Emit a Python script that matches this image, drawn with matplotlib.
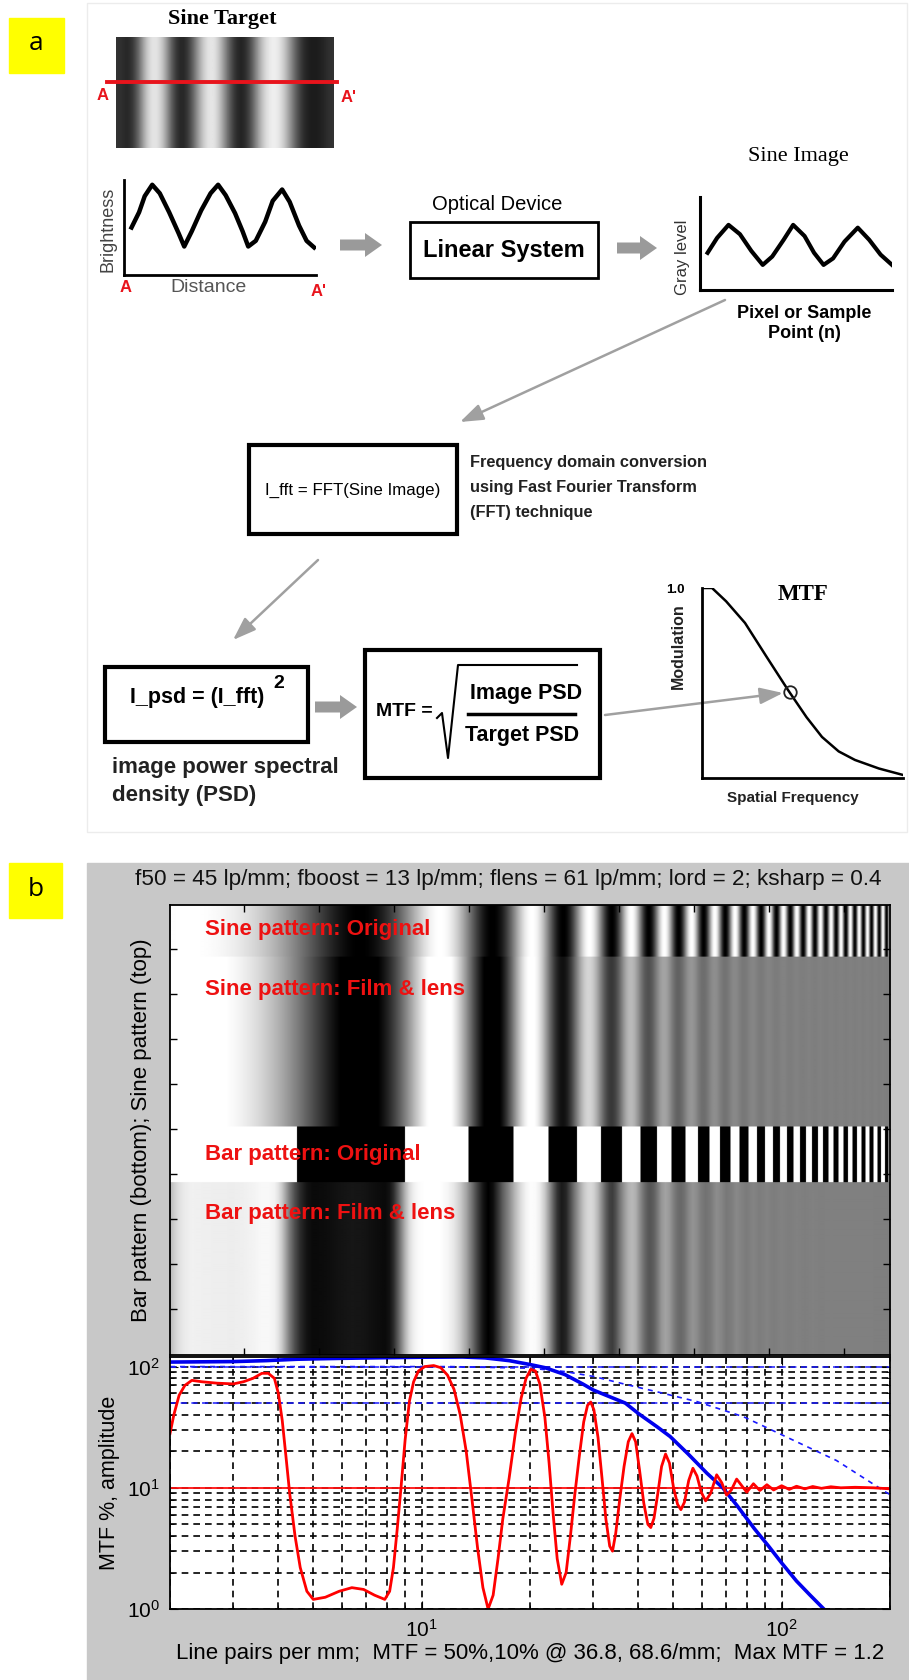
import numpy as np
import matplotlib
matplotlib.use("Agg")
import matplotlib.pyplot as plt
from matplotlib.patches import Rectangle, FancyArrow
from matplotlib.ticker import LogLocator, NullFormatter

W, H = 909, 1680

# ---------------- data ----------------
# panel a: sine target brightness across the strip (0 = black, 1 = white)
target_profile = [0.2, 0.12, 0.35, 0.8, 0.95, 0.75, 0.3, 0.1, 0.25, 0.65, 0.92, 0.9, 0.55,
                  0.2, 0.1, 0.3, 0.7, 0.93, 0.95, 0.75, 0.4, 0.15, 0.1, 0.12, 0.2]

# brightness trace A -> A' (arbitrary units)
bright_x = [0.4, 0.8, 1.1, 1.5, 1.9, 2.4, 2.9, 3.2, 3.6, 4.1, 4.6, 5.0, 5.4, 5.9, 6.3, 6.6,
            7.0, 7.5, 7.9, 8.4, 8.8, 9.3, 9.7, 10.1]
bright_y = [5.0, 6.6, 8.3, 9.5, 8.6, 6.6, 4.4, 3.0, 4.6, 6.8, 8.6, 9.5, 8.4, 6.5, 4.6, 3.0,
            3.6, 5.6, 7.8, 9.0, 7.7, 5.2, 3.6, 2.9]

# sine image trace (gray level vs pixel)
gray_x = [0.4, 0.9, 1.5, 2.1, 2.7, 3.3, 3.8, 4.4, 4.9, 5.5, 6.0, 6.5, 7.0, 7.6, 8.3, 8.9, 9.5, 10.1]
gray_y = [4.0, 5.6, 7.0, 6.0, 4.2, 2.7, 3.6, 5.4, 7.0, 5.8, 4.0, 2.7, 3.4, 5.2, 6.7, 5.4, 3.8, 2.7]

# MTF sketch (normalised spatial frequency, modulation)
sketch_freq = [0.0, 0.05, 0.12, 0.214, 0.32, 0.428, 0.52, 0.597, 0.68, 0.761, 0.88, 1.0]
sketch_mod = [1.0, 1.0, 0.93, 0.816, 0.64, 0.463, 0.32, 0.216, 0.14, 0.095, 0.05, 0.016]
sketch_mark = (0.438, 0.453)

# panel b: bar pattern response (red), lp/mm vs amplitude
red_f = [2.0, 2.05, 2.12, 2.2, 2.3, 2.45, 2.7, 3.0, 3.2, 3.4, 3.6, 3.75, 3.9, 4.0, 4.1, 4.2,
         4.3, 4.45, 4.6, 4.8, 5.0, 5.4, 5.9, 6.4, 6.9, 7.4, 7.9, 8.15, 8.35, 8.55, 8.75, 9.0,
         9.25, 9.5, 9.8, 10.2, 10.8, 11.3, 11.8, 12.3, 12.8, 13.3, 13.8, 14.3, 14.8, 15.3,
         15.8, 16.3, 16.8, 17.5, 18.2, 18.9, 19.5, 20.1, 20.7, 21.3, 22.0, 22.6, 23.2, 23.8,
         24.5, 25.2, 25.9, 26.6, 27.4, 28.2, 28.9, 29.5, 30.1, 30.9, 31.7, 32.5, 33.3, 33.9,
         34.6, 35.5, 36.5, 37.5, 38.4, 39.3, 40.3, 41.4, 42.5, 43.3, 44.2, 45.3, 46.4, 47.6,
         48.8, 50.1, 51.4, 52.5, 53.7, 55.2, 56.7, 58.2, 59.8, 61.5, 63.5, 66.0, 68.2, 70.3,
         72.5, 75.0, 77.5, 80.0, 83.5, 87.0, 91.0, 95.0, 100.0, 105.0, 110.0, 116.0, 122.0,
         129.0, 137.0, 146.0, 160.0, 180.0, 200.0]
red_amp = [28, 40, 58, 70, 77, 75, 73, 72, 75, 80, 88, 88, 80, 60, 36, 18,
           9, 4, 2.2, 1.4, 1.2, 1.25, 1.4, 1.5, 1.45, 1.3, 1.2, 1.4, 2.2, 4.5, 9.5, 25,
           52, 75, 92, 100, 102, 98, 85, 65, 40, 20, 8, 3.2, 1.5, 1.0,
           1.3, 2.6, 5.5, 12, 28, 55, 80, 95, 92, 72, 38, 16, 6, 2.6,
           1.6, 2.0, 4.0, 8.5, 18, 35, 48, 51, 44, 26, 12, 5.5, 3.3, 3.0,
           4.2, 8, 15, 24, 28, 24, 14, 7.5, 5, 4.7, 5.6, 9, 15, 19,
           16, 10, 7.3, 6.6, 7.6, 11.5, 14.5, 12.5, 9.2, 7.8, 9, 12.8, 11, 8.7,
           9.6, 11.8, 10.4, 9.2, 10.8, 9.5, 10.6, 9.6, 10.4, 9.7, 10.3, 9.8, 10.25,
           9.9, 10.2, 10.0, 10.1, 10.0, 9.8]

# system MTF (blue solid), percent
mtf_f = [2.0, 3.0, 3.7, 4.5, 6.0, 8.0, 10.0, 13.0, 15.0, 17.5, 20.0, 22.0, 25.0, 28.0, 30.0,
         33.0, 36.8, 40.0, 45.0, 49.0, 55.0, 62.0, 68.6, 75.0, 84.0, 92.0, 100.0, 110.0,
         120.0, 131.0, 140.0]
mtf_pct = [109, 110, 112, 115, 117, 118.5, 119.5, 120, 118, 112, 104, 98, 86, 72, 64,
           57, 50, 41, 32, 26.5, 19, 13.2, 10, 7.2, 4.6, 3.3, 2.4, 1.7,
           1.3, 1.0, 0.8]

# lens MTF (blue dashed), percent
lens_f = [2.0, 12.0, 20.0, 25.0, 30.0, 35.7, 45.0, 58.2, 78.5, 103.0, 142.0, 196.0, 200.0]
lens_pct = [100, 100, 97, 91, 83, 73, 62, 51.4, 38.5, 26.3, 16.8, 9.1, 8.8]

blue_refs = [100, 50]
red_ref = 10
f_lim = (2, 200)
amp_lim = (1, 120)
pattern_period = 9.0      # lp/mm per cycle of the test pattern
pattern_white = 2.25      # lp/mm where the first white band sits
row_heights = [35, 113, 37, 115]   # sine orig, sine film, bar orig, bar film
n_cols = 480

plt.rcParams["font.family"] = ["Liberation Sans", "DejaVu Sans"]
SERIF = "Liberation Serif"

fig = plt.figure(figsize=(W / 100, H / 100), dpi=100)


def px_axes(x0, y0, x1, y1):
    return fig.add_axes([x0 / W, 1 - y1 / H, (x1 - x0) / W, (y1 - y0) / H])


bg = px_axes(0, 0, W, H)
bg.set_xlim(0, W)
bg.set_ylim(H, 0)
bg.axis("off")

# ================= panel a =================
bg.add_patch(Rectangle((87, 3), 820, 829, fill=False, ec="#ececec", lw=1))
bg.add_patch(Rectangle((9, 18), 55, 55, color="#ffff00"))
bg.text(36.5, 44, "a", fontsize=19, ha="center", va="center", family="Open Sans")

bg.text(222, 19, "Sine Target", family=SERIF, weight="bold", fontsize=16,
        ha="center", va="center")

ax_t = px_axes(116, 37, 334, 148)
ax_t.imshow(np.array([target_profile]), cmap="gray", vmin=0, vmax=1,
            aspect="auto", interpolation="bicubic")
ax_t.axis("off")
ax_t.plot([(107 - 116) / 218, (337 - 116) / 218], [(148 - 82) / 111] * 2,
          color="#e8141c", lw=2.8, transform=ax_t.transAxes, clip_on=False)
bg.text(103, 96, "A", color="#e8141c", weight="bold", fontsize=12, ha="center", va="center")
bg.text(349, 97, "A'", color="#e8141c", weight="bold", fontsize=12, ha="center", va="center")

# brightness trace
ax_b = px_axes(124, 180, 316, 275)
ax_b.set_facecolor("none")
ax_b.plot(bright_x, bright_y, color="black", lw=3.2, solid_joinstyle="round")
ax_b.set_xlim(0, 10.2)
ax_b.set_ylim(0, 10)
ax_b.set_xticks([])
ax_b.set_yticks([])
for s in ["top", "right"]:
    ax_b.spines[s].set_visible(False)
for s in ["left", "bottom"]:
    ax_b.spines[s].set_linewidth(2)
bg.text(108, 229, "Brightness", rotation=90, fontsize=13, color="#444444",
        ha="center", va="center")
bg.text(209, 288, "Distance", fontsize=14, color="#555555", ha="center", va="center")
bg.text(126, 288, "A", color="#e8141c", weight="bold", fontsize=12, ha="center", va="center")
bg.text(319, 292, "A'", color="#e8141c", weight="bold", fontsize=12, ha="center", va="center")

gray_arrow = "#9a9a9a"
for (x0, x1, y) in [(340, 382, 245), (617, 657, 248), (315, 357, 707)]:
    bg.add_patch(FancyArrow(x0, y, x1 - x0, 0, width=11, head_width=24, head_length=17,
                            length_includes_head=True, color=gray_arrow, lw=0))

bg.text(497, 205, "Optical Device", fontsize=14.5, ha="center", va="center")
bg.add_patch(Rectangle((410, 222), 188, 56, fill=False, ec="black", lw=2))
bg.text(504, 250, "Linear System", fontsize=17, weight="bold", ha="center", va="center")

# sine image trace
bg.text(798, 157, "Sine Image", family=SERIF, fontsize=16, ha="center", va="center")
ax_g = px_axes(700, 197, 892, 290)
ax_g.set_facecolor("none")
ax_g.plot(gray_x, gray_y, color="black", lw=3.0, solid_joinstyle="round")
ax_g.set_xlim(0, 10.1)
ax_g.set_ylim(0, 10)
ax_g.set_xticks([])
ax_g.set_yticks([])
for s in ["top", "right"]:
    ax_g.spines[s].set_visible(False)
for s in ["left", "bottom"]:
    ax_g.spines[s].set_linewidth(2.2)
bg.text(682, 257, "Gray level", rotation=90, fontsize=12, color="#333333",
        ha="center", va="center")
bg.text(804, 313, "Pixel or Sample", fontsize=13, weight="bold", ha="center", va="center")
bg.text(804, 334, "Point (n)", fontsize=13, weight="bold", ha="center", va="center")

thin = dict(arrowstyle="-|>,head_length=1.4,head_width=0.5", color="#a0a0a0", lw=1.8,
            shrinkA=0, shrinkB=0)
bg.annotate("", xy=(460, 422), xytext=(725, 300), arrowprops=thin)
bg.annotate("", xy=(233, 640), xytext=(318, 560), arrowprops=thin)
bg.annotate("", xy=(783, 693), xytext=(605, 715), arrowprops=thin)

bg.add_patch(Rectangle((249, 445), 208, 89, fill=False, ec="black", lw=3))
bg.text(353, 490, "I_fft = FFT(Sine Image)", fontsize=12.2, ha="center", va="center")
for i, line in enumerate(["Frequency domain conversion", "using Fast Fourier Transform",
                          "(FFT) technique"]):
    bg.text(470, 462 + 25.5 * i, line, weight="bold", fontsize=11.8,
            ha="left", va="center", color="#222222")

bg.add_patch(Rectangle((105, 667), 203, 75, fill=False, ec="black", lw=3))
bg.text(197, 698, "I_psd = (I_fft)", fontsize=15.5, weight="bold", ha="center", va="center")
bg.text(279, 684, "2", fontsize=14, weight="bold", ha="center", va="center")
bg.text(112, 768, "image power spectral", fontsize=16, weight="bold", ha="left", va="center",
        color="#222222")
bg.text(112, 796, "density (PSD)", fontsize=16, weight="bold", ha="left", va="center",
        color="#222222")

bg.add_patch(Rectangle((365, 650), 235, 128, fill=False, ec="black", lw=3))
bg.text(376, 712, "MTF =", fontsize=14, weight="bold", ha="left", va="center")
bg.plot([437, 442, 448, 458, 577], [718, 713, 758, 665, 665], color="black", lw=1.5)
bg.text(526, 693, "Image PSD", fontsize=15.5, weight="bold", ha="center", va="center")
bg.plot([468, 575], [714, 714], color="black", lw=2.5)
bg.text(522, 735, "Target PSD", fontsize=15.5, weight="bold", ha="center", va="center")

# MTF sketch
ax_s = px_axes(702, 588, 903, 778)
ax_s.set_facecolor("none")
ax_s.plot(sketch_freq, sketch_mod, color="black", lw=1.8)
ax_s.plot([sketch_mark[0]], [sketch_mark[1]], marker="o", ms=9, mfc="none", mec="#222222",
          mew=1.3)
ax_s.set_xlim(0, 1)
ax_s.set_ylim(0, 1)
ax_s.set_xticks([])
ax_s.set_yticks([])
for s in ["top", "right"]:
    ax_s.spines[s].set_visible(False)
for s in ["left", "bottom"]:
    ax_s.spines[s].set_linewidth(2)
bg.text(675, 590, "1.0", fontsize=9.5, weight="bold", ha="center", va="center")
bg.text(803, 594, "MTF", family=SERIF, weight="bold", fontsize=16.5, ha="center", va="center")
bg.text(678, 646, "Modulation", rotation=90, fontsize=11.5, weight="bold", ha="center",
        va="center", color="#222222")
bg.text(793, 798, "Spatial Frequency", fontsize=11, weight="bold", ha="center",
        va="center", color="#222222")

# ================= panel b =================
bg.add_patch(Rectangle((87, 863), W - 87, H - 863, color="#c8c8c8"))
bg.add_patch(Rectangle((9, 863), 53, 55, color="#ffff00"))
bg.text(35.5, 889, "b", fontsize=19, ha="center", va="center", family="Open Sans")
bg.text(508, 880, "f50 = 45 lp/mm; fboost = 13 lp/mm; flens = 61 lp/mm; lord = 2; ksharp = 0.4",
        fontsize=16.2, ha="center", va="center", color="#111111")

# pattern image, columns spaced evenly in log frequency like the plot below
u = (np.arange(n_cols * 3) + 0.5) / (n_cols * 3)
f_col = f_lim[0] * (f_lim[1] / f_lim[0]) ** u
phase = 2 * np.pi * (f_col - pattern_white) / pattern_period
m_col = 10 ** np.interp(np.log10(f_col), np.log10(mtf_f), np.log10(mtf_pct)) / 100
sine_orig = 0.5 + 0.5 * np.cos(phase)
sine_film = np.clip(0.5 + 0.5 * m_col * np.cos(phase), 0, 1)
bar_orig = (np.cos(phase) >= 0).astype(float)
bar_film = np.clip(np.interp(np.log10(f_col), np.log10(red_f), np.log10(red_amp)) / 2, 0, 1)
img = np.vstack([np.tile(r, (n, 1)) for r, n in
                 zip([sine_orig, sine_film, bar_orig, bar_film], row_heights)])
n_rows = sum(row_heights)

ax_img = px_axes(170, 905, 890, 1355)
ax_img.imshow(img, cmap="gray", vmin=0, vmax=1, aspect="auto",
              extent=(0.5, n_cols + 0.5, n_rows + 0.5, 0.5))
ax_img.set_xticks(np.arange(50, n_cols, 50))
ax_img.set_yticks(np.arange(30, n_rows, 30))
ax_img.tick_params(direction="in", top=True, right=True, labelbottom=False,
                   labelleft=False, length=5, width=1)
for s in ax_img.spines.values():
    s.set_linewidth(1.3)
ax_img.set_ylabel("Bar pattern (bottom); Sine pattern (top)", fontsize=16, labelpad=13)
red_lbl = "#ee1111"
row_tops = np.cumsum([0] + row_heights)
for label, row, dy in [("Sine pattern: Original", 0, 17), ("Sine pattern: Film & lens", 1, 22),
                       ("Bar pattern: Original", 2, 19), ("Bar pattern: Film & lens", 3, 21)]:
    ax_img.text(24, row_tops[row] + dy, label, color=red_lbl, weight="bold",
                fontsize=16, ha="left", va="center")

# MTF plot
ax = px_axes(170, 1357, 890, 1609)
ax.set_xscale("log")
ax.set_yscale("log")
ax.grid(True, which="both", color="black", linestyle=(0, (4, 3)), lw=1.2)
for v in blue_refs:
    ax.axhline(v, color="#1a1aff", lw=1.1, linestyle=(0, (4, 3)))
ax.plot(lens_f, lens_pct, color="#1a1aff", lw=1.2, linestyle=(0, (3, 3)))
ax.axhline(red_ref, color="#ff1010", lw=1.3)
ax.plot(mtf_f, mtf_pct, color="#0000ee", lw=2.6)
ax.plot(red_f, red_amp, color="#ff0000", lw=2.0)
ax.set_xlim(*f_lim)
ax.set_ylim(*amp_lim)
ax.xaxis.set_minor_formatter(NullFormatter())
ax.yaxis.set_minor_formatter(NullFormatter())
ax.yaxis.set_major_locator(LogLocator(base=10, numticks=5))
ax.tick_params(which="both", direction="in", top=True, right=True, labelsize=15)
ax.tick_params(which="major", length=6, pad=7)
ax.tick_params(which="minor", length=3)
for s in ax.spines.values():
    s.set_linewidth(1.3)
ax.set_ylabel("MTF %, amplitude", fontsize=15.5, labelpad=5)
ax.set_xlabel("Line pairs per mm;  MTF = 50%,10% @ 36.8, 68.6/mm;  Max MTF = 1.2",
              fontsize=16, labelpad=2)

fig.savefig("out.png", dpi=100)
